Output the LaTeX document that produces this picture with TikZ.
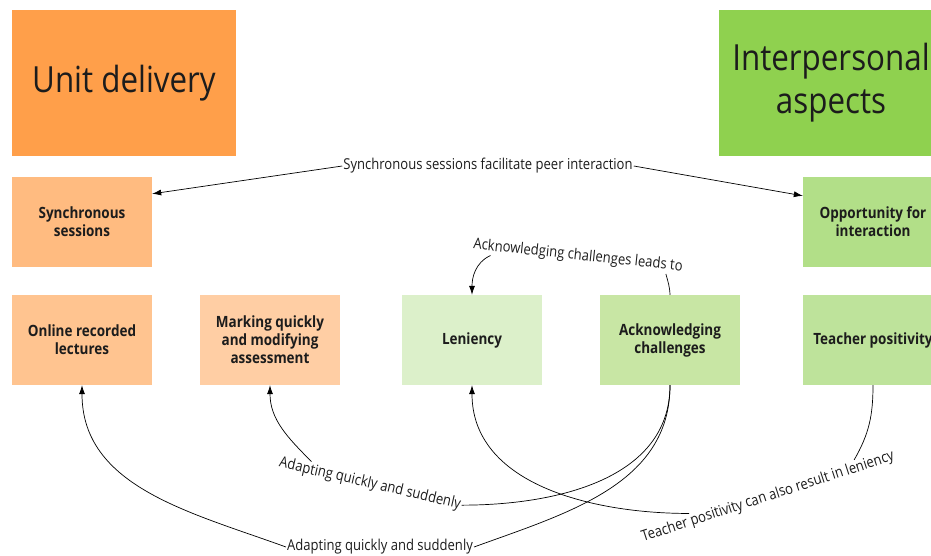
\documentclass[tikz,border=0pt]{standalone}
\usepackage{fontspec}
\setmainfont{Open Sans}[FakeStretch=0.87]
\usetikzlibrary{arrows.meta,calc}
\definecolor{ink}{HTML}{1C1C1C}
\definecolor{unitc}{HTML}{FF9F4A}
\definecolor{interc}{HTML}{8FD14F}
\definecolor{syncc}{HTML}{FFBB80}
\definecolor{onlinec}{HTML}{FFC490}
\definecolor{markc}{HTML}{FFCEA4}
\definecolor{lenc}{HTML}{DCF0CA}
\definecolor{ackc}{HTML}{C8E6A4}
\definecolor{teachc}{HTML}{BEE39B}
\definecolor{oppc}{HTML}{B2DF88}

\begin{document}
\begin{tikzpicture}[x=1pt,y=1pt,
    head/.style={fill=#1, minimum width=224pt, minimum height=146pt, inner sep=0pt,
        align=center, text=ink, font=\fontsize{36}{43}\selectfont},
    box/.style={fill=#1, minimum width=140pt, minimum height=90pt, inner sep=0pt,
        align=center, text=ink, font=\fontsize{15.5}{18}\selectfont\bfseries},
    lbl/.style={text=ink, inner sep=1pt, font=\fontsize{15}{18}\selectfont},
    link/.style={-{Latex[length=9pt,width=6pt]}, line width=0.7pt},
    plain/.style={line width=0.7pt}]
    \useasboundingbox (0,0) rectangle (931,555);
    %\draw[help lines,step=50] (0,0) grid (931,555);
    % headings
    \node[head=unitc] (unit) at (124,472) {Unit delivery};
    \node[head=interc] (inter) at (831,472) {Interpersonal\\aspects};
    % themes
    \node[box=syncc] (sync) at (82,333) {Synchronous\\sessions};
    \node[box=oppc] (opp) at (873,333) {Opportunity for\\interaction};
    \node[box=onlinec] (online) at (82,215) {Online recorded\\lectures};
    \node[box=markc] (marking) at (270,215) {Marking quickly\\and modifying\\assessment};
    \node[box=lenc] (len) at (472,215) {Leniency};
    \node[box=ackc] (ack) at (670,215) {Acknowledging\\challenges};
    \node[box=teachc] (teach) at (873,215) {Teacher positivity};
    % link labels
    \node[lbl] (synclbl) at (488,389) {Synchronous sessions facilitate peer interaction};
    \node[lbl,rotate=-6] (acklbl) at (578,299) {Acknowledging challenges leads to};
    \node[lbl,rotate=-13] (adapta) at (370,71) {Adapting quickly and suddenly};
    \node[lbl] (adaptb) at (380,8) {Adapting quickly and suddenly};
    \node[lbl,rotate=18] (tposlbl) at (768,58) {Teacher positivity can also result in leniency};
    % links
    \draw[link] (synclbl.west) -- ([yshift=-17pt]sync.north east);
    \draw[link] (synclbl.east) -- ([yshift=-19pt]opp.north west);
    \draw[plain] (ack.north) to[out=92,in=-75] ($(acklbl.south east)!0.08!(acklbl.south west)$);
    \draw[link] ($(acklbl.south west)!0.09!(acklbl.south east)$) to[out=205,in=90] (len.north);
    \draw[plain] (ack.south) to[out=-90,in=0] (adapta.east);
    \draw[link] ($(adapta.north west)!0.17!(adapta.north east)$) to[out=135,in=-90] (marking.south);
    \draw[plain] (ack.south) to[out=-90,in=20] (adaptb.east);
    \draw[link] (adaptb.west) to[out=160,in=-90] (online.south);
    \draw[plain] (teach.south) to[out=-90,in=60] ($(tposlbl.north east)!0.15!(tposlbl.north west)$);
    \draw[link] ($(tposlbl.north west)!0.2!(tposlbl.north east)$) to[out=180,in=-90] (len.south);
\end{tikzpicture}
\end{document}
